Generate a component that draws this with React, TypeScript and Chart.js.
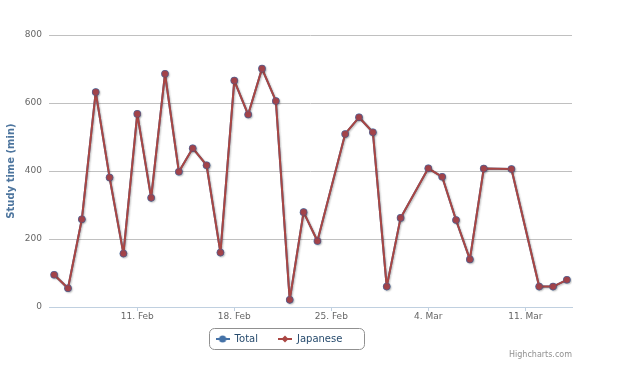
import React, { useEffect, useRef } from "react";
import { Chart, registerables } from "chart.js";

Chart.register(...registerables);

// Dates of the recorded days (some days are missing in the source)
const dates: string[] = [
  "2013-02-05", "2013-02-06", "2013-02-07", "2013-02-08", "2013-02-09", "2013-02-10",
  "2013-02-11", "2013-02-12", "2013-02-13", "2013-02-14", "2013-02-15", "2013-02-16",
  "2013-02-17", "2013-02-18", "2013-02-19", "2013-02-20", "2013-02-21", "2013-02-22",
  "2013-02-23", "2013-02-24", "2013-02-26", "2013-02-27", "2013-02-28", "2013-03-01",
  "2013-03-02", "2013-03-04", "2013-03-05", "2013-03-06", "2013-03-07", "2013-03-08",
  "2013-03-10", "2013-03-12", "2013-03-13", "2013-03-14",
];

const totalValues: number[] = [
  95, 55, 258, 632, 381, 157, 568, 321, 686, 398, 467, 417,
  160, 666, 566, 701, 606, 21, 279, 194, 509, 558, 514, 60,
  262, 408, 383, 256, 140, 407, 406, 60, 60, 80,
];

const japaneseValues: number[] = [
  95, 55, 258, 632, 381, 157, 568, 321, 686, 398, 467, 417,
  160, 666, 566, 701, 606, 21, 279, 194, 509, 558, 514, 60,
  262, 408, 383, 256, 140, 407, 406, 60, 60, 80,
];

const tickDates: string[] = ["2013-02-11", "2013-02-18", "2013-02-25", "2013-03-04", "2013-03-11"];
const tickLabels: string[] = ["11. Feb", "18. Feb", "25. Feb", "4. Mar", "11. Mar"];

const yTicks: number[] = [0, 200, 400, 600, 800];

const seriesNames: string[] = ["Total", "Japanese"];

const DAY = 86400000;
const startDate = dates[0];
const dayIndex = (d: string) => Math.round((Date.parse(d) - Date.parse(startDate)) / DAY);
const lastIndex = dayIndex(dates[dates.length - 1]);

function legendSymbol(color: string, shape: "circle" | "diamond"): HTMLCanvasElement {
  const c = document.createElement("canvas");
  c.width = 14;
  c.height = 10;
  const ctx = c.getContext("2d")!;
  ctx.strokeStyle = color;
  ctx.lineWidth = 2;
  ctx.beginPath();
  ctx.moveTo(0, 5);
  ctx.lineTo(14, 5);
  ctx.stroke();
  ctx.fillStyle = color;
  ctx.beginPath();
  if (shape === "circle") {
    ctx.arc(7, 5, 3.6, 0, Math.PI * 2);
  } else {
    ctx.moveTo(7, 1.5);
    ctx.lineTo(10.5, 5);
    ctx.lineTo(7, 8.5);
    ctx.lineTo(3.5, 5);
    ctx.closePath();
  }
  ctx.fill();
  return c;
}

export default function App() {
  const canvasRef = useRef<HTMLCanvasElement | null>(null);

  useEffect(() => {
    document.body.style.margin = "0";
    const canvas = canvasRef.current;
    if (!canvas) return;

    const colors = ["#4572A7", "#AA4643"];
    const symbols = [legendSymbol(colors[0], "circle"), legendSymbol(colors[1], "diamond")];

    const toPoints = (vals: number[]) => dates.map((d, i) => ({ x: dayIndex(d), y: vals[i] }));

    const shadowPlugin = {
      id: "lineShadow",
      beforeDatasetsDraw(chart: any) {
        const ctx = chart.ctx;
        ctx.save();
        ctx.shadowColor = "rgba(0,0,0,0.15)";
        ctx.shadowOffsetX = 1;
        ctx.shadowOffsetY = 1;
        ctx.shadowBlur = 2;
      },
      afterDatasetsDraw(chart: any) {
        chart.ctx.restore();
      },
    };

    const legendShiftPlugin = {
      id: "legendShift",
      afterLayout(chart: any) {
        const lg = chart.legend;
        if (!lg) return;
        lg.top -= 10;
        lg.bottom -= 10;
        lg.left -= 7;
        lg.right -= 7;
      },
    };

    const decorPlugin = {
      id: "decor",
      afterDraw(chart: any) {
        const ctx = chart.ctx;
        const lg = chart.legend;
        // legend border
        if (lg && lg.lineWidths) {
          const pad = lg.options.labels.padding;
          const startX = (lg.left + pad + lg.right - lg.lineWidths[0]) / 2;
          const endX = startX + lg.lineWidths[0] - pad;
          const x0 = Math.round(startX - 7) + 0.5;
          const x1 = Math.round(endX + 22) + 0.5;
          const y0 = 328.5;
          const y1 = 349.5;
          const r = 5;
          ctx.save();
          ctx.strokeStyle = "#909090";
          ctx.lineWidth = 1;
          ctx.beginPath();
          ctx.moveTo(x0 + r, y0);
          ctx.lineTo(x1 - r, y0);
          ctx.arcTo(x1, y0, x1, y0 + r, r);
          ctx.lineTo(x1, y1 - r);
          ctx.arcTo(x1, y1, x1 - r, y1, r);
          ctx.lineTo(x0 + r, y1);
          ctx.arcTo(x0, y1, x0, y1 - r, r);
          ctx.lineTo(x0, y0 + r);
          ctx.arcTo(x0, y0, x0 + r, y0, r);
          ctx.closePath();
          ctx.stroke();
          ctx.restore();
        }
        // credits
        ctx.save();
        ctx.font = "8px 'DejaVu Sans'";
        ctx.fillStyle = "#909090";
        ctx.textAlign = "right";
        ctx.textBaseline = "middle";
        ctx.fillText("Highcharts.com", chart.chartArea.right, 355);
        ctx.restore();
      },
    };

    const chart = new Chart(canvas, {
      type: "line",
      data: {
        datasets: [
          {
            label: seriesNames[0],
            data: toPoints(totalValues),
            order: 1,
            borderColor: colors[0],
            backgroundColor: colors[0],
            borderWidth: 2,
            borderJoinStyle: "round",
            borderCapStyle: "round",
            pointRadius: 3.8,
            pointBackgroundColor: colors[0],
            pointBorderWidth: 0,
            tension: 0,
          },
          {
            label: seriesNames[1],
            data: toPoints(japaneseValues),
            order: 0,
            borderColor: colors[1],
            backgroundColor: colors[1],
            borderWidth: 2,
            borderJoinStyle: "round",
            borderCapStyle: "round",
            pointRadius: 3.3,
            pointBackgroundColor: "#A4444A",
            pointBorderColor: "rgba(100,90,140,0.5)",
            pointBorderWidth: 0.8,
            tension: 0,
          },
        ],
      },
      options: {
        animation: false,
        responsive: false,
        maintainAspectRatio: false,
        layout: { padding: { left: 0, right: 68, top: 35, bottom: 5 } },
        plugins: {
          tooltip: { enabled: false },
          legend: {
            display: true,
            position: "bottom",
            labels: {
              usePointStyle: true,
              pointStyleWidth: 14,
              padding: 20,
              color: "#274b6d",
              font: { family: "'DejaVu Sans'", size: 10 },
              generateLabels: (ch: any) =>
                ch.data.datasets.map((ds: any, i: number) => ({
                  text: ds.label,
                  pointStyle: symbols[i],
                  fillStyle: colors[i],
                  strokeStyle: colors[i],
                  fontColor: "#274b6d",
                  lineWidth: 0,
                  hidden: false,
                  datasetIndex: i,
                })),
            },
          },
        },
        scales: {
          x: {
            type: "linear",
            min: -0.37,
            max: lastIndex + 0.37,
            afterFit: (scale: any) => {
              scale.height = 17;
            },
            afterBuildTicks: (scale: any) => {
              scale.ticks = tickDates.map((d) => ({ value: dayIndex(d) }));
            },
            grid: {
              drawOnChartArea: false,
              drawTicks: true,
              tickLength: 4,
              tickColor: "#C0D0E0",
              color: "#C0D0E0",
            },
            border: { display: true, color: "#C0D0E0", width: 1 },
            ticks: {
              autoSkip: false,
              maxRotation: 0,
              minRotation: 0,
              padding: 0,
              color: "#666666",
              font: { family: "'DejaVu Sans'", size: 9 },
              callback: (value: any) => {
                const idx = tickDates.findIndex((d) => dayIndex(d) === value);
                return idx >= 0 ? tickLabels[idx] : "";
              },
            },
          },
          y: {
            min: yTicks[0],
            max: yTicks[yTicks.length - 1],
            afterFit: (scale: any) => {
              scale.width = 49;
            },
            afterBuildTicks: (scale: any) => {
              scale.ticks = yTicks.map((v) => ({ value: v }));
            },
            grid: {
              drawTicks: false,
              color: (c: any) => (c.tick && c.tick.value === 0 ? "rgba(0,0,0,0)" : "#C0C0C0"),
            },
            border: { display: false },
            ticks: {
              padding: 7,
              color: "#666666",
              font: { family: "'DejaVu Sans'", size: 9 },
            },
            title: {
              display: true,
              text: "Study time (min)",
              color: "#4d759e",
              font: { family: "'DejaVu Sans'", size: 10, weight: "bold" },
              padding: { top: 5, bottom: 0 },
            },
          },
        },
      },
      plugins: [shadowPlugin, legendShiftPlugin, decorPlugin],
    });

    return () => {
      chart.destroy();
    };
  }, []);

  return (
    <div style={{ position: "fixed", left: 0, top: 0, width: 640, height: 369, background: "#ffffff" }}>
      <canvas ref={canvasRef} width={640} height={369} />
    </div>
  );
}
